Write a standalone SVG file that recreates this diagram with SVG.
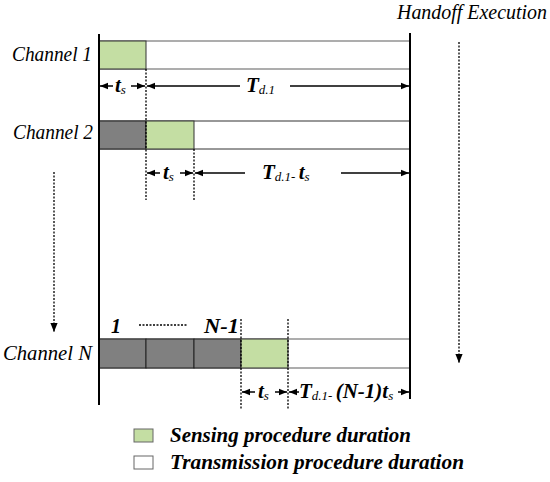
<svg xmlns="http://www.w3.org/2000/svg" width="550" height="482" viewBox="0 0 550 482">
<defs>
<marker id="ah" viewBox="0 0 10 10" refX="10" refY="5" markerWidth="11" markerHeight="8" markerUnits="userSpaceOnUse" orient="auto-start-reverse">
<path d="M0,1 L10,5 L0,9 z" fill="#000"/>
</marker>
<marker id="ahd" viewBox="0 0 10 10" refX="10" refY="5" markerWidth="9" markerHeight="10" markerUnits="userSpaceOnUse" orient="auto">
<path d="M0,1 L10,5 L0,9 z" fill="#000"/>
</marker>
<style>
.lbl{font-family:"Liberation Serif",serif;font-style:italic;font-size:20px;fill:#000}
.b{font-family:"Liberation Serif",serif;font-style:italic;font-weight:bold;fill:#000}
.dash{stroke:#000;stroke-width:1.3;stroke-dasharray:2,1.5;fill:none}
.arr{stroke:#000;stroke-width:1.5;fill:none;marker-end:url(#ah)}
.green{fill:#C4DEA3;stroke:#333;stroke-width:1}
.grey{fill:#808080;stroke:#222;stroke-width:1}
.white{fill:#fff;stroke:#777;stroke-width:1.2}
</style>
</defs>
<text class="lbl" x="397" y="19" textLength="150" lengthAdjust="spacingAndGlyphs">Handoff Execution</text>

<g id="channel1">
<text class="lbl" x="12" y="61" textLength="80" lengthAdjust="spacingAndGlyphs">Channel 1</text>
<rect class="white" x="99" y="41" width="311" height="28"/>
<rect class="green" x="99" y="41" width="47" height="28"/>
</g>
<g id="channel2">
<text class="lbl" x="13" y="139" textLength="80" lengthAdjust="spacingAndGlyphs">Channel 2</text>
<rect x="99" y="121" width="311" height="28" fill="#fff" stroke="#333" stroke-width="1"/>
<rect class="grey" x="99" y="121" width="47" height="28"/>
<rect class="green" x="146" y="121" width="48" height="28"/>
</g>
<g id="channelN">
<text class="lbl" x="3" y="360" textLength="89" lengthAdjust="spacingAndGlyphs">Channel N</text>
<rect class="white" x="99" y="339" width="311" height="29"/>
<rect class="grey" x="99" y="339" width="47" height="29"/>
<rect class="grey" x="146" y="339" width="48" height="29"/>
<rect class="grey" x="194" y="339" width="47" height="29"/>
<rect class="green" x="241" y="339" width="47" height="29"/>
<text class="b" x="111" y="333" font-size="20">1</text>
<text class="b" x="204" y="333" font-size="20" textLength="35" lengthAdjust="spacingAndGlyphs">N-1</text>
</g>
<g id="legend">
<rect x="134" y="429" width="19" height="13" fill="#C4DEA3" stroke="#666" stroke-width="1"/>
<text class="b" x="170" y="442" font-size="20" textLength="241" lengthAdjust="spacingAndGlyphs">Sensing procedure duration</text>
<rect x="134" y="456" width="19" height="13" fill="#fff" stroke="#666" stroke-width="1"/>
<text class="b" x="170" y="469" font-size="20" textLength="294" lengthAdjust="spacingAndGlyphs">Transmission procedure duration</text>
</g>

<g id="connectors">
<line x1="99" y1="34" x2="99" y2="405" stroke="#000" stroke-width="2"/>
<line x1="410" y1="33" x2="410" y2="399" stroke="#000" stroke-width="2"/>
<line class="dash" x1="146" y1="69" x2="146" y2="200"/>
<line class="dash" x1="194" y1="149" x2="194" y2="200"/>
<line class="dash" x1="241" y1="319" x2="241" y2="410"/>
<line class="dash" x1="288" y1="319" x2="288" y2="410"/>
<line class="dash" x1="139" y1="325" x2="187" y2="325"/>
<line class="dash" x1="54" y1="172" x2="54" y2="332" marker-end="url(#ahd)"/>
<line class="dash" x1="459" y1="42" x2="459" y2="363" marker-end="url(#ahd)"/>
<line class="arr" x1="113" y1="86" x2="100" y2="86"/>
<line class="arr" x1="131" y1="86" x2="145" y2="86"/>
<line class="arr" x1="240" y1="86" x2="147" y2="86"/>
<line class="arr" x1="290" y1="86" x2="409" y2="86"/>
<line class="arr" x1="160" y1="173" x2="147" y2="173"/>
<line class="arr" x1="180" y1="173" x2="193" y2="173"/>
<line class="arr" x1="245" y1="173" x2="195" y2="173"/>
<line class="arr" x1="341" y1="173" x2="409" y2="173"/>
<line class="arr" x1="255" y1="392" x2="242" y2="392"/>
<line class="arr" x1="275" y1="392" x2="287" y2="392"/>
<line class="arr" x1="299" y1="392" x2="289" y2="392"/>
<line class="arr" x1="398" y1="392" x2="409" y2="392"/>
</g>
<g id="labels">
<text class="b" x="115" y="92" font-size="21">t<tspan font-size="13" font-weight="normal" dy="2">s</tspan></text>
<text class="b" x="246" y="92" font-size="21">T<tspan font-size="13" font-weight="normal" dy="2">d.1</tspan></text>
<text class="b" x="163" y="179" font-size="21">t<tspan font-size="13" font-weight="normal" dy="2">s</tspan></text>
<text class="b" x="262" y="179" font-size="21">T<tspan font-size="13" font-weight="normal" dy="2">d.1- </tspan><tspan dy="-2">t</tspan><tspan font-size="13" font-weight="normal" dy="2">s</tspan></text>
<text class="b" x="258" y="398" font-size="21">t<tspan font-size="13" font-weight="normal" dy="2">s</tspan></text>
<text class="b" x="299" y="398" font-size="21">T<tspan font-size="13" font-weight="normal" dy="2">d.1- </tspan><tspan dy="-2">(N-1)t</tspan><tspan font-size="13" font-weight="normal" dy="2">s</tspan></text>
</g>
</svg>
